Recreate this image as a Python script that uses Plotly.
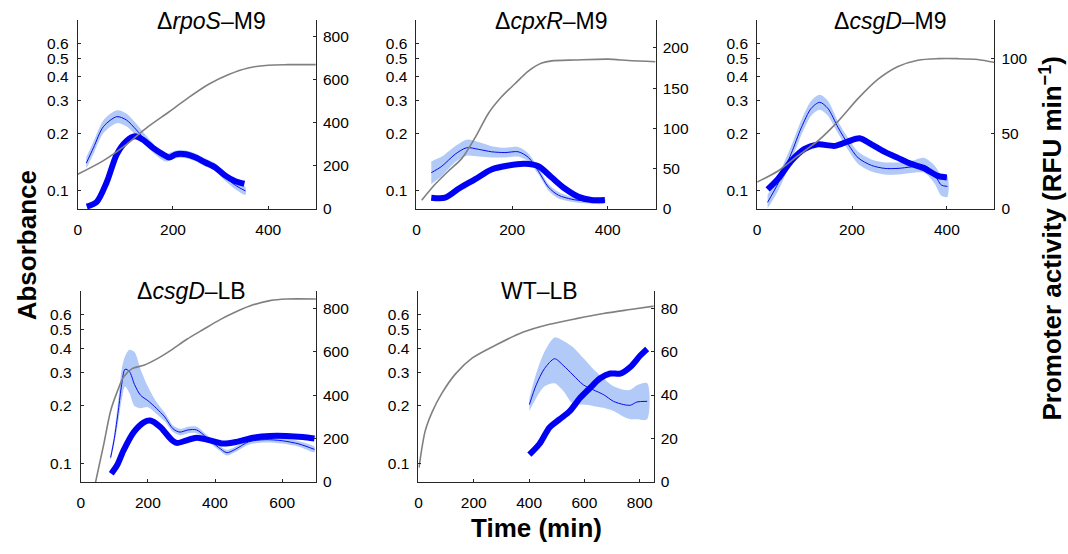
import plotly.graph_objects as go
import math

W, H = 1068, 554

# ---------------- data ----------------
titles = ["Δ<i>rpoS</i>–M9", "Δ<i>cpxR</i>–M9", "Δ<i>csgD</i>–M9", "Δ<i>csgD</i>–LB", "WT–LB"]

# Panel 1: rpoS-M9
p1_abs_t = [0, 54, 102, 144, 192, 234, 275, 317, 358, 400, 441, 500]
p1_abs = [0.122, 0.144, 0.175, 0.214, 0.261, 0.312, 0.365, 0.411, 0.445, 0.460, 0.463, 0.463]
p1_thin_t = [18, 33, 54, 82, 102, 123, 144, 165, 185, 206, 227, 248, 268, 289, 310, 331, 352]
p1_thin = [213, 284, 383, 429, 414, 368, 315, 269, 239, 254, 254, 239, 216, 193, 148, 110, 84]
p1_thin_hi = [240, 312, 413, 459, 444, 396, 340, 289, 257, 272, 272, 257, 234, 211, 166, 128, 102]
p1_thin_lo = [188, 256, 353, 399, 384, 340, 290, 249, 221, 236, 236, 221, 198, 175, 130, 92, 66]
p1_thick_t = [19, 40, 61, 82, 102, 120, 137, 158, 179, 192, 206, 227, 248, 268, 289, 310, 331, 350]
p1_thick = [11, 33, 125, 254, 315, 338, 322, 284, 254, 239, 254, 254, 239, 216, 193, 155, 129, 117]

# Panel 2: cpxR-M9
p2_abs_t = [11, 39, 67, 95, 123, 151, 178, 206, 234, 262, 283, 332, 401, 443, 500]
p2_abs = [0.089, 0.108, 0.127, 0.148, 0.191, 0.257, 0.313, 0.367, 0.428, 0.472, 0.485, 0.490, 0.495, 0.487, 0.480]
p2_thin_t = [31, 53, 81, 105, 130, 157, 185, 213, 234, 255, 276, 297, 325, 352, 394]
p2_thin = [45, 53, 68, 76, 74, 71, 70, 71, 64, 47, 27, 17, 12, 10, 10]
p2_thin_hi = [59, 65, 78, 86, 83, 78, 76, 77, 69, 51, 31, 21, 15, 13, 13]
p2_thin_lo = [31, 41, 58, 66, 65, 64, 64, 65, 59, 43, 23, 13, 9, 7, 7]
p2_thick_t = [31, 60, 88, 123, 157, 192, 227, 255, 283, 311, 339, 366, 394]
p2_thick = [14, 14, 25, 37, 49, 54, 56, 53, 39, 25, 15, 11, 11]

# Panel 3: csgD-M9
p3_abs_t = [0, 44, 86, 128, 171, 213, 255, 297, 339, 381, 423, 465, 502]
p3_abs = [0.111, 0.127, 0.153, 0.183, 0.233, 0.307, 0.388, 0.453, 0.489, 0.498, 0.498, 0.493, 0.475]
p3_thin_t = [22, 44, 72, 93, 114, 132, 149, 171, 192, 213, 241, 269, 297, 325, 353, 374, 388, 401]
p3_thin = [4.4, 17, 37, 54, 67, 71, 67, 54, 43, 34, 29, 27, 27, 28, 29, 23, 16, 15]
p3_thin_hi = [9.4, 22, 42, 59, 72, 76, 72, 58, 47, 38, 33, 31, 31, 32, 34, 29, 23, 22]
p3_thin_lo = [0.5, 12, 32, 49, 62, 66, 62, 50, 39, 30, 25, 23, 23, 24, 24, 17, 9, 8]
p3_thick_t = [22, 44, 72, 100, 128, 164, 192, 216, 241, 269, 297, 325, 353, 381, 400]
p3_thick = [13, 20, 32, 40, 43, 42, 45, 47, 43, 38, 34, 30, 27, 22, 21]

# Panel 4: csgD-LB
p4_abs_t = [44, 69, 89, 109, 128, 153, 188, 227, 267, 316, 365, 415, 464, 513, 563, 612, 701]
p4_abs = [0.0795, 0.127, 0.188, 0.238, 0.284, 0.313, 0.326, 0.352, 0.389, 0.446, 0.502, 0.565, 0.623, 0.675, 0.710, 0.724, 0.724]
p4_thin_t = [89, 100, 112, 122, 132, 145, 160, 178, 200, 225, 250, 275, 295, 320, 345, 375, 410, 435, 460, 500, 550, 600, 650, 696]
p4_thin = [112, 200, 330, 450, 520, 510, 450, 400, 375, 340, 300, 245, 230, 240, 240, 205, 160, 135, 150, 185, 195, 190, 175, 150]
p4_thin_hi = [125, 225, 380, 520, 580, 610, 600, 520, 440, 370, 320, 260, 245, 255, 255, 218, 172, 148, 162, 198, 208, 203, 188, 162]
p4_thin_lo = [100, 175, 280, 380, 440, 410, 350, 340, 345, 315, 280, 230, 215, 225, 225, 192, 148, 122, 138, 172, 182, 177, 162, 138]
p4_thick_t = [91, 109, 128, 158, 188, 207, 237, 267, 286, 316, 345, 385, 424, 464, 513, 563, 612, 661, 696]
p4_thick = [38, 79, 147, 230, 275, 283, 253, 200, 180, 192, 204, 192, 177, 185, 204, 212, 212, 207, 200]

# Panel 5: WT-LB
p5_abs_t = [2, 24, 49, 85, 134, 195, 280, 377, 474, 571, 669, 766, 853]
p5_abs = [0.095, 0.147, 0.185, 0.233, 0.294, 0.356, 0.416, 0.485, 0.534, 0.572, 0.608, 0.638, 0.665]
p5_thin_t = [401, 426, 456, 492, 523, 559, 596, 632, 669, 705, 742, 766, 790, 827]
p5_thin = [35.6, 44.7, 52.2, 56.7, 53.7, 49.2, 44.7, 42.4, 40.2, 37.1, 35.6, 35.3, 36.8, 37.1]
p5_thin_hi = [38.6, 50, 60, 66.5, 65, 62, 57, 52, 47.7, 44, 42.4, 42.4, 44.5, 45.4]
p5_thin_lo = [32.6, 38.6, 44, 45.4, 42, 36, 35.6, 35, 34.1, 32.6, 30, 28.9, 28.9, 28.9]
p5_thick_t = [401, 438, 474, 511, 547, 584, 620, 657, 693, 730, 766, 802, 827]
p5_thick = [12.6, 17.6, 25.1, 28.9, 32.6, 38.6, 43.2, 47.7, 49.9, 49.9, 52.9, 58.2, 61.2]

abs_ticks = [0.1, 0.2, 0.3, 0.4, 0.5, 0.6]
abs_range = [0.08, 0.8]

x_ticks = [[0, 200, 400], [0, 200, 400], [0, 200, 400], [0, 200, 400, 600], [0, 200, 400, 600, 800]]
x_ranges = [[0, 500], [0, 500], [0, 500], [0, 700], [0, 850]]
act_ticks = [[0, 200, 400, 600, 800], [0, 50, 100, 150, 200], [0, 50, 100],
             [0, 200, 400, 600, 800], [0, 20, 40, 60, 80]]
act_ranges = [[0, 880], [0, 235], [0, 126], [0, 882], [0, 88]]

panels = [
    (p1_abs_t, p1_abs, p1_thin_t, p1_thin, p1_thin_hi, p1_thin_lo, p1_thick_t, p1_thick),
    (p2_abs_t, p2_abs, p2_thin_t, p2_thin, p2_thin_hi, p2_thin_lo, p2_thick_t, p2_thick),
    (p3_abs_t, p3_abs, p3_thin_t, p3_thin, p3_thin_hi, p3_thin_lo, p3_thick_t, p3_thick),
    (p4_abs_t, p4_abs, p4_thin_t, p4_thin, p4_thin_hi, p4_thin_lo, p4_thick_t, p4_thick),
    (p5_abs_t, p5_abs, p5_thin_t, p5_thin, p5_thin_hi, p5_thin_lo, p5_thick_t, p5_thick),
]

# ---------------- layout geometry (pixels) ----------------
rects = [(74, 20, 313, 212), (414, 20, 654, 212), (756, 20, 994, 212),
         (77, 295, 313, 489), (416, 295, 652, 489)]
title_pos = [(208, 21), (550, 21), (890, 21), (188, 295), (538, 295)]

FONT = "Liberation Sans, Arial, Helvetica, sans-serif"
AXC = "#262626"
GRAY = "rgb(128,128,128)"
BAND = "rgb(178,202,248)"
THIN = "rgb(10,10,235)"
THICK = "rgb(0,0,245)"
TICKSIZE = 15.5

fig = go.Figure()
layout = dict(
    width=W, height=H, margin=dict(l=0, r=0, t=0, b=0),
    paper_bgcolor="white", plot_bgcolor="rgba(0,0,0,0)",
    showlegend=False, font=dict(family=FONT, size=16, color="black"),
    annotations=[],
)

for i, (rect, data) in enumerate(zip(rects, panels)):
    n = i + 1
    xk = "x" if n == 1 else f"x{n}"
    ya = 2 * n - 1  # right (activity) base axis
    yb = 2 * n      # left (absorbance) overlay axis
    x0, y0, x1, y1 = rect
    abs_t, abs_v, thin_t, thin_v, hi, lo, thick_t, thick_v = data
    tf = dict(size=TICKSIZE, family=FONT, color="black")

    layout["xaxis" if n == 1 else f"xaxis{n}"] = dict(
        domain=[x0 / W, x1 / W], anchor=f"y{ya}" if ya > 1 else "y",
        range=x_ranges[i], tickvals=x_ticks[i], showgrid=False, zeroline=False,
        showline=True, linecolor=AXC, linewidth=1, ticks="inside", ticklen=3,
        tickcolor=AXC, tickfont=tf, ticklabelstandoff=6,
    )
    layout["yaxis" if ya == 1 else f"yaxis{ya}"] = dict(
        domain=[1 - y1 / H, 1 - y0 / H], anchor=xk, side="right",
        range=act_ranges[i], tickvals=act_ticks[i], showgrid=False, zeroline=False,
        showline=True, linecolor=AXC, linewidth=1, ticks="inside", ticklen=3,
        tickcolor=AXC, tickfont=tf, ticklabelstandoff=3,
    )
    layout[f"yaxis{yb}"] = dict(
        overlaying="y" if ya == 1 else f"y{ya}", anchor=xk, side="left", type="log",
        range=[math.log10(abs_range[0]), math.log10(abs_range[1])],
        tickvals=abs_ticks, ticktext=[str(v) for v in abs_ticks],
        showgrid=False, zeroline=False, showline=True, linecolor=AXC, linewidth=1,
        ticks="inside", ticklen=3, tickcolor=AXC, tickfont=tf, ticklabelstandoff=5,
    )
    yak = "y" if ya == 1 else f"y{ya}"
    ybk = f"y{yb}"

    fig.add_trace(go.Scatter(
        x=list(thin_t) + list(thin_t)[::-1], y=list(hi) + list(lo)[::-1],
        fill="toself", fillcolor=BAND, mode="lines", line=dict(width=0, shape="spline", smoothing=0.8),
        xaxis=xk, yaxis=yak, hoverinfo="skip"))
    fig.add_trace(go.Scatter(
        x=thin_t, y=thin_v, mode="lines", line=dict(color=THIN, width=1, shape="spline", smoothing=0.8),
        xaxis=xk, yaxis=yak))
    fig.add_trace(go.Scatter(
        x=thick_t, y=thick_v, mode="lines", line=dict(color=THICK, width=6, shape="spline", smoothing=0.8),
        xaxis=xk, yaxis=yak))
    fig.add_trace(go.Scatter(
        x=abs_t, y=abs_v, mode="lines", line=dict(color=GRAY, width=1.6, shape="spline", smoothing=0.8),
        xaxis=xk, yaxis=ybk))

    tx, ty = title_pos[i]
    layout["annotations"].append(dict(
        text=titles[i], x=tx / W, y=1 - ty / H, xref="paper", yref="paper",
        showarrow=False, xanchor="center", yanchor="middle",
        font=dict(size=23, family=FONT, color="black")))

layout["annotations"] += [
    dict(text="<b>Absorbance</b>", x=23 / W, y=1 - 249 / H, xref="paper", yref="paper",
         showarrow=False, textangle=-90, xanchor="center", yanchor="middle",
         font=dict(size=26, family=FONT, color="black")),
    dict(text="<b>Time (min)</b>", x=535 / W, y=1 - 536 / H, xref="paper", yref="paper",
         showarrow=False, xanchor="center", yanchor="middle",
         font=dict(size=26, family=FONT, color="black")),
    dict(text="<b>Promoter activity (RFU min<sup>−1</sup>)</b>", x=1051 / W, y=1 - 242 / H,
         xref="paper", yref="paper", showarrow=False, textangle=-90,
         xanchor="center", yanchor="middle",
         font=dict(size=26, family=FONT, color="black")),
]

fig.update_layout(**layout)
fig.write_html("out.html", post_script="document.body.style.margin='0';",
               config={"displayModeBar": False})
